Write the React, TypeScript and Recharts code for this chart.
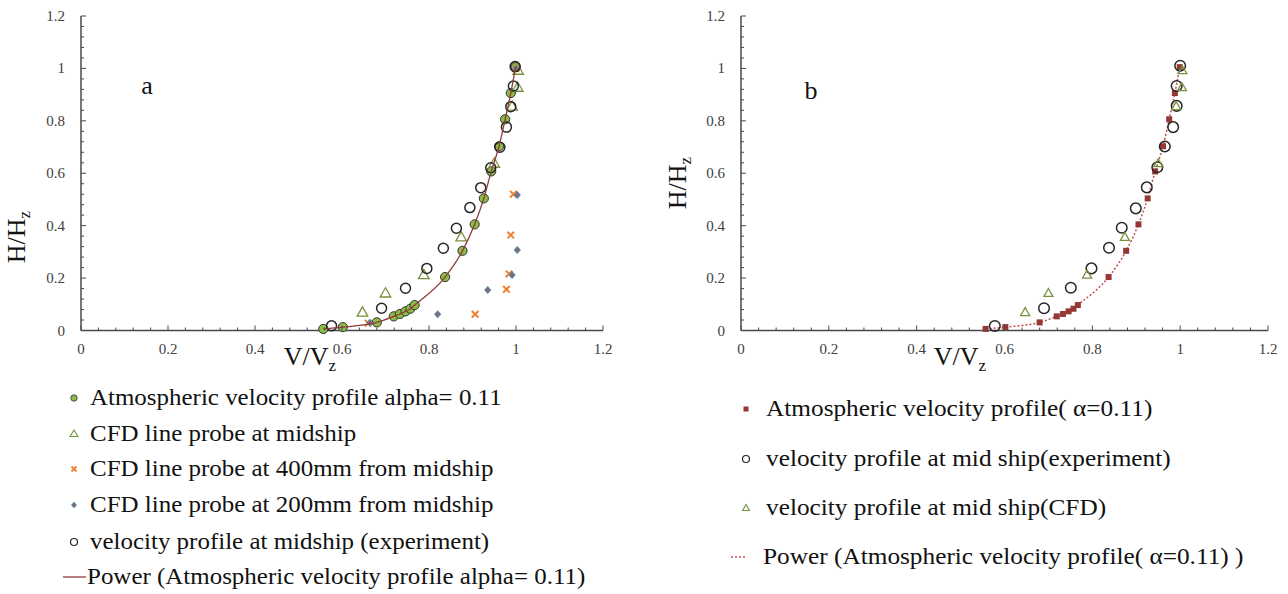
import React from 'react';
import { ScatterChart, Scatter, XAxis, YAxis } from 'recharts';

type Pt = { v: number; h: number };

const FONT = '"Liberation Serif", "Times New Roman", serif';
const AXIS = '#4a4a4a';
const TICK_TEXT = '#404040';

// minor ticks every 0.04, labels every 0.2
const tickValues = [
  0, 0.04, 0.08, 0.12, 0.16, 0.2, 0.24, 0.28, 0.32, 0.36, 0.4, 0.44, 0.48, 0.52, 0.56, 0.6,
  0.64, 0.68, 0.72, 0.76, 0.8, 0.84, 0.88, 0.92, 0.96, 1, 1.04, 1.08, 1.12, 1.16, 1.2,
];
const tickLabels = ['0', '0.2', '0.4', '0.6', '0.8', '1', '1.2'];

// atmospheric profile, alpha = 0.11 (same points in both panels)
const atmospheric: Pt[] = [
  { v: 0.557, h: 0.006 }, { v: 0.602, h: 0.013 }, { v: 0.68, h: 0.031 }, { v: 0.719, h: 0.054 },
  { v: 0.733, h: 0.063 }, { v: 0.746, h: 0.073 }, { v: 0.757, h: 0.083 }, { v: 0.767, h: 0.097 },
  { v: 0.837, h: 0.204 }, { v: 0.877, h: 0.304 }, { v: 0.905, h: 0.405 }, { v: 0.926, h: 0.504 },
  { v: 0.943, h: 0.607 }, { v: 0.961, h: 0.703 }, { v: 0.975, h: 0.806 }, { v: 0.988, h: 0.906 },
  { v: 0.999, h: 1.005 },
];

const cfdMidship: Pt[] = [
  { v: 0.647, h: 0.07 }, { v: 0.7, h: 0.143 }, { v: 0.788, h: 0.213 }, { v: 0.874, h: 0.357 },
  { v: 0.95, h: 0.638 }, { v: 0.991, h: 0.856 }, { v: 1.004, h: 0.928 }, { v: 1.005, h: 0.993 },
];

const cfd400mm: Pt[] = [
  { v: 0.66, h: 0.028 }, { v: 0.906, h: 0.062 }, { v: 0.978, h: 0.157 }, { v: 0.984, h: 0.216 },
  { v: 0.988, h: 0.364 }, { v: 0.994, h: 0.52 }, { v: 1.0, h: 1.0 },
];

const cfd200mm: Pt[] = [
  { v: 0.664, h: 0.03 }, { v: 0.82, h: 0.062 }, { v: 0.935, h: 0.155 }, { v: 0.991, h: 0.212 },
  { v: 1.003, h: 0.307 }, { v: 1.003, h: 0.517 }, { v: 1.0, h: 1.0 },
];

const experimentA: Pt[] = [
  { v: 0.576, h: 0.018 }, { v: 0.691, h: 0.085 }, { v: 0.746, h: 0.161 }, { v: 0.795, h: 0.237 },
  { v: 0.833, h: 0.314 }, { v: 0.863, h: 0.39 }, { v: 0.894, h: 0.469 }, { v: 0.919, h: 0.545 },
  { v: 0.942, h: 0.621 }, { v: 0.963, h: 0.699 }, { v: 0.978, h: 0.776 }, { v: 0.988, h: 0.854 },
  { v: 0.994, h: 0.933 }, { v: 0.998, h: 1.007 },
];

const experimentB: Pt[] = [
  { v: 0.578, h: 0.017 }, { v: 0.69, h: 0.085 }, { v: 0.751, h: 0.163 }, { v: 0.798, h: 0.237 },
  { v: 0.838, h: 0.316 }, { v: 0.867, h: 0.392 }, { v: 0.899, h: 0.466 }, { v: 0.924, h: 0.546 },
  { v: 0.948, h: 0.623 }, { v: 0.965, h: 0.702 }, { v: 0.984, h: 0.776 }, { v: 0.992, h: 0.857 },
  { v: 0.992, h: 0.933 }, { v: 1.0, h: 1.01 },
];

const legendA = [
  'Atmospheric velocity profile alpha= 0.11',
  'CFD line probe at midship',
  'CFD line probe at 400mm from midship',
  'CFD line probe at 200mm from midship',
  'velocity profile at midship (experiment)',
  'Power (Atmospheric velocity profile alpha= 0.11)',
];

const legendB = [
  'Atmospheric velocity profile( \u03b1=0.11)',
  'velocity profile at mid ship(experiment)',
  'velocity profile at mid ship(CFD)',
  'Power (Atmospheric velocity profile( \u03b1=0.11) )',
];

// ---- marker shapes ----
/* eslint-disable @typescript-eslint/no-explicit-any */
const greenDot = (p: any) => <circle cx={p.cx} cy={p.cy} r={4.6} fill="#8CBB46" stroke="#333" strokeWidth={1} />;
const openCircle = (r: number) => (p: any) => (
  <circle cx={p.cx} cy={p.cy} r={r} fill="none" stroke="#262626" strokeWidth={1.5} />
);
const triangle = (s: number) => (p: any) => (
  <path
    d={`M${p.cx},${p.cy - s}L${p.cx + s},${p.cy + s * 0.75}L${p.cx - s},${p.cy + s * 0.75}Z`}
    fill="none"
    stroke="#76923C"
    strokeWidth={1.3}
  />
);
const cross = (p: any) => (
  <path
    d={`M${p.cx - 3.3},${p.cy - 3.3}L${p.cx + 3.3},${p.cy + 3.3}M${p.cx + 3.3},${p.cy - 3.3}L${p.cx - 3.3},${p.cy + 3.3}`}
    stroke="#F0802F"
    strokeWidth={2}
  />
);
const diamond = (p: any) => (
  <g>
    <path d={`M${p.cx},${p.cy - 4}L${p.cx + 3.6},${p.cy}L${p.cx},${p.cy + 4}L${p.cx - 3.6},${p.cy}Z`} fill="#4F86A8" />
    <circle cx={p.cx} cy={p.cy} r={1.4} fill="#C0504D" />
  </g>
);
const square = (p: any) => <rect x={p.cx - 3} y={p.cy - 3} width={6} height={6} fill="#953735" />;
const noShape = () => <g />;

// ---- ticks, drawn inward like the original ----
const tickIndex = (p: any) => Math.round(p.payload.value / 0.04);

const BottomTick = (p: any) => {
  const i = tickIndex(p);
  const major = i % 5 === 0;
  return (
    <g>
      <line x1={p.x} x2={p.x} y1={p.y} y2={p.y - (major ? 5 : 3)} stroke={AXIS} />
      {major && (
        <text x={p.x} y={p.y + 23} textAnchor="middle" fontSize={15} fontFamily={FONT} fill={TICK_TEXT}>
          {tickLabels[i / 5]}
        </text>
      )}
    </g>
  );
};

const LeftTick = (p: any) => {
  const i = tickIndex(p);
  const major = i % 5 === 0;
  return (
    <g>
      <line x1={p.x} x2={p.x + (major ? 5 : 3)} y1={p.y} y2={p.y} stroke={AXIS} />
      {major && (
        <text x={p.x - 16} y={p.y + 5} textAnchor="end" fontSize={15} fontFamily={FONT} fill={TICK_TEXT}>
          {tickLabels[i / 5]}
        </text>
      )}
    </g>
  );
};

const TopTick = (p: any) => {
  const major = tickIndex(p) % 5 === 0;
  return <line x1={p.x} x2={p.x} y1={p.y} y2={p.y + (major ? 5 : 3)} stroke={AXIS} />;
};

const RightTick = (p: any) => {
  const major = tickIndex(p) % 5 === 0;
  return <line x1={p.x} x2={p.x - (major ? 5 : 3)} y1={p.y} y2={p.y} stroke={AXIS} />;
};

const frameAxes = () => [
  <XAxis key="xb" type="number" dataKey="v" domain={[0, 1.2]} ticks={tickValues} interval={0}
    height={30} tickSize={0} tickMargin={0} tickLine={false} tick={<BottomTick />}
    axisLine={{ stroke: AXIS, strokeWidth: 1.5 }} />,
  <YAxis key="yl" type="number" dataKey="h" domain={[0, 1.2]} ticks={tickValues} interval={0}
    width={81} tickSize={0} tickMargin={0} tickLine={false} tick={<LeftTick />}
    axisLine={{ stroke: AXIS, strokeWidth: 1.5 }} />,
  <XAxis key="xt" xAxisId="top" orientation="top" type="number" domain={[0, 1.2]} ticks={tickValues}
    interval={0} height={0} tickSize={0} tickMargin={0} tickLine={false} tick={<TopTick />}
    axisLine={{ stroke: AXIS, strokeWidth: 1.2 }} />,
  <YAxis key="yr" yAxisId="right" orientation="right" type="number" domain={[0, 1.2]} ticks={tickValues}
    interval={0} width={0} tickSize={0} tickMargin={0} tickLine={false} tick={<RightTick />}
    axisLine={{ stroke: AXIS, strokeWidth: 1.2 }} />,
];

const abs = (left: number, top: number, extra: React.CSSProperties = {}): React.CSSProperties => ({
  position: 'absolute', left, top, fontFamily: FONT, color: '#111', whiteSpace: 'nowrap', ...extra,
});

function LegendRow({ x, y, textX, text, stretch, children }: any) {
  return (
    <>
      <svg style={{ position: 'absolute', left: x - 15, top: y - 10 }} width={30} height={20}>
        {children}
      </svg>
      <div
        style={abs(textX, y - 14, {
          fontSize: 23, lineHeight: '28px', transform: `scaleX(${stretch})`, transformOrigin: 'left center',
        })}
      >
        {text}
      </div>
    </>
  );
}

function AxisTitles({ xCx, yCx, yCy }: { xCx: number; yCx: number; yCy: number }) {
  return (
    <>
      <div style={abs(xCx, 342, { fontSize: 26, transform: 'translateX(-50%)', lineHeight: '30px' })}>
        V/V<sub style={{ fontSize: 17, verticalAlign: '-0.35em' }}>z</sub>
      </div>
      <div
        style={abs(yCx, yCy, {
          fontSize: 26, lineHeight: '30px', transform: 'translate(-50%, -50%) rotate(-90deg)',
        })}
      >
        H/H<sub style={{ fontSize: 17, verticalAlign: '-0.35em' }}>z</sub>
      </div>
    </>
  );
}

export default function App() {
  const rowsA = [398, 434, 469, 505, 542, 577];
  const rowsB = [409, 459, 508, 557];
  const sA = 1.085;
  const sB = 1.1;
  return (
    <div style={{ position: 'absolute', left: 0, top: 0, width: 1288, height: 594, background: '#fff' }}>
      {/* panel a */}
      <div style={{ position: 'absolute', left: 0, top: 0 }}>
        <ScatterChart width={620} height={370} margin={{ top: 16, right: 17, bottom: 9.5, left: 0 }}>
          {frameAxes()}
          <Scatter data={atmospheric} shape={greenDot} isAnimationActive={false} />
          <Scatter data={cfdMidship} shape={triangle(5.3)} isAnimationActive={false} />
          <Scatter data={cfd400mm} shape={cross} isAnimationActive={false} />
          <Scatter data={cfd200mm} shape={diamond} isAnimationActive={false} />
          <Scatter data={experimentA} shape={openCircle(5)} isAnimationActive={false} />
          <Scatter data={atmospheric} shape={noShape} line={{ stroke: '#8E3B3B', strokeWidth: 1.3 }}
            lineJointType="monotoneX" isAnimationActive={false} />
        </ScatterChart>
      </div>
      <div style={abs(147, 86, { fontSize: 26, transform: 'translate(-50%, -50%)', lineHeight: '30px' })}>a</div>
      <AxisTitles xCx={310} yCx={21} yCy={237} />

      {/* panel b */}
      <div style={{ position: 'absolute', left: 660, top: 0 }}>
        <ScatterChart width={625} height={370} margin={{ top: 16, right: 17, bottom: 9.5, left: 0 }}>
          {frameAxes()}
          <Scatter data={atmospheric} shape={noShape}
            line={{ stroke: '#C0504D', strokeWidth: 1.5, strokeDasharray: '2 2' }}
            lineJointType="monotoneX" isAnimationActive={false} />
          <Scatter data={atmospheric} shape={square} isAnimationActive={false} />
          <Scatter data={experimentB} shape={openCircle(5.3)} isAnimationActive={false} />
          <Scatter data={cfdMidship} shape={triangle(4.5)} isAnimationActive={false} />
        </ScatterChart>
      </div>
      <div style={abs(811, 91, { fontSize: 26, transform: 'translate(-50%, -50%)', lineHeight: '30px' })}>b</div>
      <AxisTitles xCx={960} yCx={682} yCy={183} />

      {/* legend a */}
      <LegendRow x={74} y={rowsA[0]} textX={90} text={legendA[0]} stretch={sA}>
        <circle cx={15} cy={10} r={3.2} fill="#8CBB46" stroke="#333" strokeWidth={0.8} />
      </LegendRow>
      <LegendRow x={74} y={rowsA[1]} textX={90} text={legendA[1]} stretch={sA}>
        <path d="M15,6L19,12.5L11,12.5Z" fill="none" stroke="#76923C" strokeWidth={1.1} />
      </LegendRow>
      <LegendRow x={74} y={rowsA[2]} textX={90} text={legendA[2]} stretch={sA}>
        <path d="M12.5,7.5L17.5,12.5M17.5,7.5L12.5,12.5" stroke="#F0802F" strokeWidth={1.8} />
      </LegendRow>
      <LegendRow x={74} y={rowsA[3]} textX={90} text={legendA[3]} stretch={sA}>
        <path d="M15,6.8L18,10L15,13.2L12,10Z" fill="#4F86A8" />
        <circle cx={15} cy={10} r={1.1} fill="#C0504D" />
      </LegendRow>
      <LegendRow x={74} y={rowsA[4]} textX={90} text={legendA[4]} stretch={sA}>
        <circle cx={15} cy={10} r={3.5} fill="none" stroke="#262626" strokeWidth={1.2} />
      </LegendRow>
      <LegendRow x={74} y={rowsA[5]} textX={87} text={legendA[5]} stretch={sA}>
        <line x1={4} x2={27} y1={10} y2={10} stroke="#8E3B3B" strokeWidth={1.3} />
      </LegendRow>

      {/* legend b */}
      <LegendRow x={746} y={rowsB[0]} textX={766} text={legendB[0]} stretch={sB}>
        <rect x={12.5} y={7.5} width={5} height={5} fill="#953735" />
      </LegendRow>
      <LegendRow x={746} y={rowsB[1]} textX={766} text={legendB[1]} stretch={sB}>
        <circle cx={15} cy={10} r={3.5} fill="none" stroke="#262626" strokeWidth={1.2} />
      </LegendRow>
      <LegendRow x={746} y={rowsB[2]} textX={766} text={legendB[2]} stretch={sB}>
        <path d="M15,6.5L18.5,12.5L11.5,12.5Z" fill="none" stroke="#76923C" strokeWidth={1.1} />
      </LegendRow>
      <LegendRow x={746} y={rowsB[3]} textX={763} text={legendB[3]} stretch={sB}>
        <line x1={0} x2={16} y1={10} y2={10} stroke="#C0504D" strokeWidth={1.3} strokeDasharray="2 2" />
      </LegendRow>
    </div>
  );
}
